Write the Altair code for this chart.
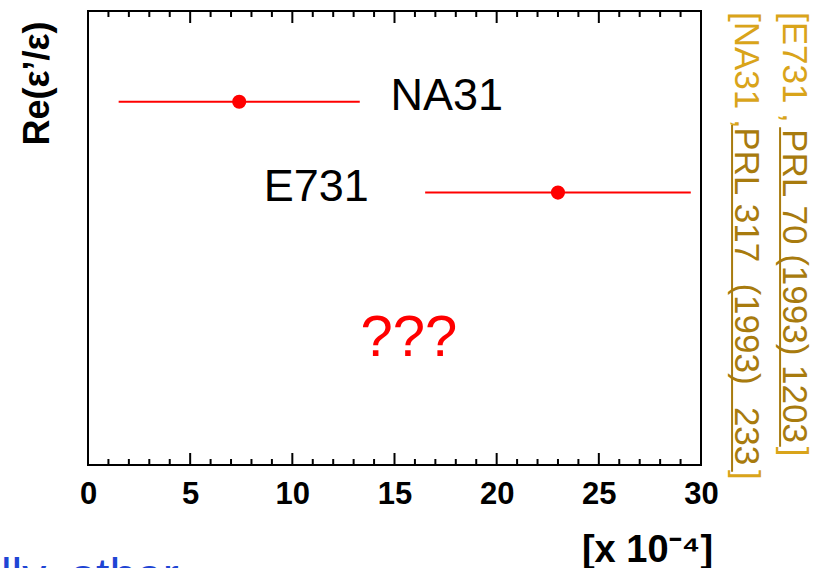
import altair as alt
import pandas as pd

# ---- data ----
experiments = ["NA31", "E731"]
central = [7.4, 23.0]
err_lo = [1.5, 16.5]
err_hi = [13.3, 29.5]
row = [8.0, 6.0]
label_x = [14.8, 8.6]

tick_major = [0, 5, 10, 15, 20, 25, 30]
tick_minor = [v for v in range(0, 31) if v % 5 != 0]

# reference annotations (text, x, y in data units)
ref_light_text = ["[E731 ,", "]", "[NA31 ,", "]"]
ref_light_x = [34.0, 34.0, 31.66, 31.66]
ref_light_y = [9.98, 0.40, 9.98, -0.11]
ref_dark_text = ["PRL 70 (1993) 1203", "PRL 317", "(1993)", "233"]
ref_dark_x = [34.0, 31.66, 31.66, 31.66]
ref_dark_y = [7.40, 7.44, 4.0, 1.28]
underline_x = [33.87, 31.52]
underline_y1 = [7.44, 7.49]
underline_y2 = [0.40, -0.15]

W, H = 613, 454
FONT = "Liberation Sans"

df = pd.DataFrame({"exp": experiments, "c": central, "lo": err_lo, "hi": err_hi,
                   "row": row, "lx": label_x})
xs = alt.Scale(domain=[0, 30], nice=False, zero=False)
ys = alt.Scale(domain=[0, 10], nice=False, zero=False)

base = alt.Chart(df)

bars = base.mark_rule(color="#ff0000", strokeWidth=2).encode(
    x=alt.X("lo:Q", scale=xs,
            axis=alt.Axis(values=tick_major, format="d", title="[x 10⁻⁴]",
                          grid=False, ticks=False, tickSize=0, domain=False,
                          labelOverlap=False, labelFlush=False, labelBound=False)),
    x2="hi:Q",
    y=alt.Y("row:Q", scale=ys,
            axis=alt.Axis(labels=False, ticks=False, tickSize=0, domain=False,
                          grid=False, title="Re(ε’/ε)")),
)

dots = base.mark_point(filled=True, color="#ff0000", size=200, opacity=1).encode(
    x=alt.X("c:Q", scale=xs), y=alt.Y("row:Q", scale=ys))

labels = base.mark_text(align="left", baseline="alphabetic", dy=8, fontSize=45,
                        font=FONT, color="black").encode(
    x=alt.X("lx:Q", scale=xs), y=alt.Y("row:Q", scale=ys), text="exp:N")

qdf = pd.DataFrame({"t": ["???"], "x": [15.7], "y": [2.4]})
qmarks = alt.Chart(qdf).mark_text(align="center", baseline="alphabetic", fontSize=58,
                                  font=FONT, color="#ff0000").encode(
    x=alt.X("x:Q", scale=xs), y=alt.Y("y:Q", scale=ys), text="t:N")

# frame ticks (inward, bottom and top)
maj = pd.DataFrame({"v": tick_major})
mnr = pd.DataFrame({"v": tick_minor})
tb_major = alt.Chart(maj).mark_rule(color="black", strokeWidth=2).encode(
    x=alt.X("v:Q", scale=xs), y=alt.value(H), y2=alt.value(H - 12))
tb_minor = alt.Chart(mnr).mark_rule(color="black", strokeWidth=2).encode(
    x=alt.X("v:Q", scale=xs), y=alt.value(H), y2=alt.value(H - 6))
tt_major = alt.Chart(maj).mark_rule(color="black", strokeWidth=2).encode(
    x=alt.X("v:Q", scale=xs), y=alt.value(0), y2=alt.value(12))
tt_minor = alt.Chart(mnr).mark_rule(color="black", strokeWidth=2).encode(
    x=alt.X("v:Q", scale=xs), y=alt.value(0), y2=alt.value(6))

# reference citations on the right
light = pd.DataFrame({"t": ref_light_text, "x": ref_light_x, "y": ref_light_y})
dark = pd.DataFrame({"t": ref_dark_text, "x": ref_dark_x, "y": ref_dark_y})
ul = pd.DataFrame({"x": underline_x, "y1": underline_y1, "y2": underline_y2})

ref_l = alt.Chart(light).mark_text(angle=90, align="left", baseline="alphabetic",
                                   fontSize=35, font=FONT, color="#D9A41A").encode(
    x=alt.X("x:Q", scale=xs), y=alt.Y("y:Q", scale=ys), text="t:N")
ref_d = alt.Chart(dark).mark_text(angle=90, align="left", baseline="alphabetic",
                                  fontSize=35, font=FONT, color="#A87B0E").encode(
    x=alt.X("x:Q", scale=xs), y=alt.Y("y:Q", scale=ys), text="t:N")
ref_u = alt.Chart(ul).mark_rule(color="#A87B0E", strokeWidth=2).encode(
    x=alt.X("x:Q", scale=xs), y=alt.Y("y1:Q", scale=ys), y2="y2:Q")

# slide text cut off at the bottom
bdf = pd.DataFrame({"t": ["lly, other"], "x": [-4.26], "y": [-2.8]})
blue = alt.Chart(bdf).mark_text(align="left", baseline="alphabetic", fontSize=48,
                                font=FONT, color="#1F45D4").encode(
    x=alt.X("x:Q", scale=xs), y=alt.Y("y:Q", scale=ys), text="t:N")

chart = alt.layer(bars, dots, labels, qmarks, tb_major, tb_minor, tt_major, tt_minor,
                  ref_l, ref_d, ref_u, blue).properties(
    width=W, height=H,
    autosize=alt.AutoSizeParams(type="none"),
    padding={"left": 88, "top": 11, "right": 124, "bottom": 103},
).configure(
    background="white",
    view=alt.ViewConfig(stroke="black", strokeWidth=2),
).configure_axisX(
    labelFont=FONT, labelFontSize=31, labelFontWeight="bold", labelColor="black",
    labelPadding=14,
    titleFont=FONT, titleFontSize=38, titleFontWeight="bold", titleColor="black",
    titleAlign="center", titleBaseline="alphabetic", titleAnchor="start",
    titleX=559, titleY=96,
).configure_axisY(
    titleFont=FONT, titleFontSize=36, titleFontWeight="bold", titleColor="black",
    titleAngle=270, titleAlign="center", titleBaseline="middle", titleAnchor="start",
    titleX=-51, titleY=72,
)

chart.save("out.html", embed_options={"renderer": "svg", "actions": False})
